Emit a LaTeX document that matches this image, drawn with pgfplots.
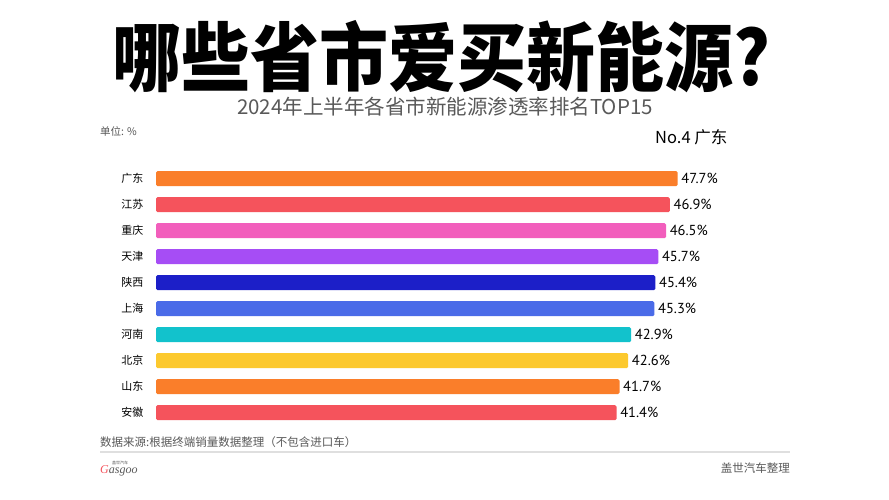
\documentclass[border=0pt]{standalone}
\usepackage{pgfplots}
\pgfplotsset{compat=1.18}
\usepackage{fontspec}
\setmainfont{Noto Sans CJK SC}
\newfontfamily\cjk{Noto Sans CJK SC}
\newfontfamily\num{PT Sans}
\newfontfamily\logofont{Liberation Serif}

\definecolor{cOrange}{HTML}{FA7E2A}
\definecolor{cRed}{HTML}{F5535C}
\definecolor{cPink}{HTML}{F25EBC}
\definecolor{cPurple}{HTML}{A64DF5}
\definecolor{cNavy}{HTML}{1C1FC8}
\definecolor{cBlue}{HTML}{4A6BE8}
\definecolor{cCyan}{HTML}{12C2CC}
\definecolor{cYellow}{HTML}{FCC92E}
\definecolor{txtgray}{HTML}{595959}

\begin{document}
\begin{tikzpicture}
\path[use as bounding box, fill=white] (0pt,0pt) rectangle (889pt,500pt);

% titles
\node[font=\cjk\bfseries\fontsize{75}{80}\selectfont, inner sep=0, xscale=0.92] at (441pt,443pt) {哪些省市爱买新能源?};
\node[font=\cjk\fontsize{20.5}{23}\selectfont, text=txtgray, inner sep=0] at (445pt,393pt) {2024年上半年各省市新能源渗透率排名TOP15};
\node[font=\cjk\fontsize{10.5}{12}\selectfont, text=txtgray, anchor=west, inner sep=0] at (100pt,369pt) {单位: \%};
\node[font=\cjk\fontsize{16.5}{19}\selectfont, anchor=west, inner sep=0] at (655pt,363pt) {No.4 广东};

\begin{axis}[
  at={(156pt,74.3pt)}, anchor=south west,
  scale only axis, width=544pt, height=260pt,
  x coord trafo/.code={\pgfmathparse{#1+6.1}},
  x coord inv trafo/.code={\pgfmathparse{#1-6.1}},
  xmin=-6.1, xmax=50,
  ymin=-0.5, ymax=9.5, y dir=reverse,
  xbar, bar width=15pt, bar shift=0pt,
  axis line style={draw=none},
  major tick length=0pt,
  xtick=\empty,
  ytick={0,...,9},
  yticklabels={广东,江苏,重庆,天津,陕西,上海,河南,北京,山东,安徽},
  yticklabel style={font=\cjk\fontsize{11}{13}\selectfont, xshift=-9pt},
  clip=false,
  point meta=explicit symbolic,
  nodes near coords={\pgfplotspointmeta\%},
  nodes near coords style={font=\num\fontsize{14.5}{16}\selectfont, anchor=west, inner sep=3.5pt},
  every axis plot/.append style={draw=none, rounded corners=1.5pt},
]
\addplot[fill=cOrange] coordinates {(47.7,0) [47.7]};
\addplot[fill=cRed] coordinates {(46.9,1) [46.9]};
\addplot[fill=cPink] coordinates {(46.5,2) [46.5]};
\addplot[fill=cPurple] coordinates {(45.7,3) [45.7]};
\addplot[fill=cNavy] coordinates {(45.4,4) [45.4]};
\addplot[fill=cBlue] coordinates {(45.3,5) [45.3]};
\addplot[fill=cCyan] coordinates {(42.9,6) [42.9]};
\addplot[fill=cYellow] coordinates {(42.6,7) [42.6]};
\addplot[fill=cOrange] coordinates {(41.7,8) [41.7]};
\addplot[fill=cRed] coordinates {(41.4,9) [41.4]};
\end{axis}

% footer
\node[font=\cjk\fontsize{11.5}{13}\selectfont, text=txtgray, anchor=west, inner sep=0] at (100pt,58pt) {数据来源:根据终端销量数据整理（不包含进口车）};
\draw[gray!25, line width=1.5pt] (100pt,48pt) -- (790pt,48pt);
\node[font=\cjk\fontsize{11.5}{13}\selectfont, text=txtgray, anchor=east, inner sep=0] at (790pt,32pt) {盖世汽车整理};
\node[font=\cjk\fontsize{4}{5}\selectfont, text=txtgray, anchor=west, inner sep=0] at (112pt,37pt) {盖世汽车};
\node[font=\logofont\itshape\fontsize{12}{13}\selectfont, text=txtgray, anchor=west, inner sep=0] at (100pt,29pt) {\textcolor{cRed}{G}asgoo};
\end{tikzpicture}
\end{document}
